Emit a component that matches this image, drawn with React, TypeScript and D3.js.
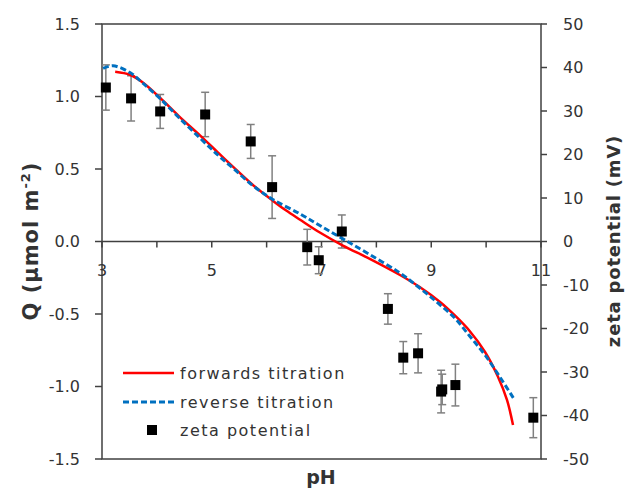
import React from "react";
import * as d3 from "d3";

// forwards titration (pH, Q µmol m-2)
const fwdPH = [3.24, 3.51, 3.75, 4.06, 4.4, 4.79, 5.11, 5.39, 5.75, 6.1, 6.35, 6.61, 6.97, 7.39, 7.88, 8.43, 8.79, 9.16, 9.43, 9.7, 9.98, 10.21, 10.38, 10.49];
const fwdQ = [1.171, 1.15, 1.095, 0.99, 0.865, 0.73, 0.615, 0.515, 0.39, 0.285, 0.215, 0.15, 0.062, -0.028, -0.12, -0.231, -0.314, -0.417, -0.51, -0.617, -0.762, -0.928, -1.093, -1.266];

// reverse titration
const revPH = [3.02, 3.2, 3.51, 3.75, 4.06, 4.4, 4.79, 5.11, 5.39, 5.75, 6.1, 6.61, 6.97, 7.39, 7.88, 8.43, 8.79, 9.12, 9.43, 9.7, 9.98, 10.25, 10.52];
const revQ = [1.194, 1.212, 1.165, 1.09, 0.985, 0.855, 0.712, 0.597, 0.505, 0.385, 0.293, 0.19, 0.11, 0.018, -0.09, -0.217, -0.321, -0.424, -0.528, -0.652, -0.783, -0.934, -1.093];

// zeta potential (pH, mV, error)
const zetaPH = [3.07, 3.53, 4.06, 4.88, 5.71, 6.1, 6.74, 6.95, 7.37, 8.21, 8.49, 8.76, 9.18, 9.2, 9.44, 10.86];
const zetaMV = [35.4, 32.9, 29.9, 29.2, 23.0, 12.5, -1.3, -4.3, 2.3, -15.5, -26.7, -25.7, -34.5, -34.0, -33.0, -40.5];
const zetaErr = [5.2, 5.2, 3.9, 5.1, 3.9, 7.2, 4.1, 3.1, 3.8, 3.5, 3.7, 4.5, 4.9, 3.5, 4.8, 4.6];

const xTicks = [3, 4, 5, 6, 7, 8, 9, 10, 11];
const xLabels = [3, 5, 7, 9, 11];
const leftTicks = [-1.5, -1.0, -0.5, 0.0, 0.5, 1.0, 1.5];
const rightTicks = [-50, -40, -30, -20, -10, 0, 10, 20, 30, 40, 50];
const legendLabels = ["forwards titration", "reverse titration", "zeta potential"];

const FONT = "'DejaVu Sans', Verdana, sans-serif";
const AX = "#404040";

export default function App() {
  const x = d3.scaleLinear().domain([3, 11]).range([102, 541]);
  const yL = d3.scaleLinear().domain([-1.5, 1.5]).range([459, 24]);
  const yR = d3.scaleLinear().domain([-50, 50]).range([459, 24]);

  const line = d3
    .line<[number, number]>()
    .x((d) => x(d[0]))
    .y((d) => yL(d[1]))
    .curve(d3.curveCatmullRom.alpha(0.5));

  const fwd = line(fwdPH.map((p, i) => [p, fwdQ[i]] as [number, number])) || "";
  const rev = line(revPH.map((p, i) => [p, revQ[i]] as [number, number])) || "";

  const y0 = yL(0);
  const [x0, x1] = x.range();
  const [yb, yt] = yL.range();

  return (
    <svg
      width={630}
      height={490}
      style={{ position: "absolute", left: 0, top: 0, background: "#fff" }}
      fontFamily={FONT}
    >
      {/* frame */}
      <rect x={x0} y={yt} width={x1 - x0} height={yb - yt} fill="none" stroke={AX} strokeWidth={1.5} />
      {/* zero line */}
      <line x1={x0} x2={x1} y1={y0} y2={y0} stroke={AX} strokeWidth={1.5} />
      {xTicks.map((t) => (
        <line key={"xt" + t} x1={x(t)} x2={x(t)} y1={y0} y2={y0 + 6} stroke={AX} strokeWidth={1.5} />
      ))}
      {xLabels.map((t) => (
        <text key={"xl" + t} x={x(t)} y={276} textAnchor="middle" fontSize={16} fill="#333">
          {t}
        </text>
      ))}
      {/* left axis */}
      {leftTicks.map((t) => (
        <g key={"lt" + t}>
          <line x1={x0 - 7} x2={x0} y1={yL(t)} y2={yL(t)} stroke={AX} strokeWidth={1.5} />
          <text x={80} y={yL(t)} dy="0.36em" textAnchor="end" fontSize={16} fill="#333">
            {d3.format(".1f")(t).replace("−", "-")}
          </text>
        </g>
      ))}
      {/* right axis */}
      {rightTicks.map((t) => (
        <g key={"rt" + t}>
          <line x1={x1} x2={x1 + 6} y1={yR(t)} y2={yR(t)} stroke={AX} strokeWidth={1.5} />
          <text x={563} y={yR(t)} dy="0.36em" textAnchor="start" fontSize={16} fill="#333">
            {String(t)}
          </text>
        </g>
      ))}

      {/* error bars */}
      {zetaPH.map((p, i) => {
        const cx = x(p);
        const top = yR(zetaMV[i] + zetaErr[i]);
        const bot = yR(zetaMV[i] - zetaErr[i]);
        return (
          <g key={"eb" + i} stroke="#808080" strokeWidth={1.5}>
            <line x1={cx} x2={cx} y1={top} y2={bot} />
            <line x1={cx - 4} x2={cx + 4} y1={top} y2={top} />
            <line x1={cx - 4} x2={cx + 4} y1={bot} y2={bot} />
          </g>
        );
      })}

      {/* curves */}
      <path d={fwd} fill="none" stroke="#FF0000" strokeWidth={2.5} />
      <path d={rev} fill="none" stroke="#0070C0" strokeWidth={3} strokeDasharray="6,3" />

      {/* markers */}
      {zetaPH.map((p, i) => (
        <rect key={"m" + i} x={x(p) - 5} y={yR(zetaMV[i]) - 5} width={10} height={10} fill="#000" />
      ))}

      {/* legend */}
      <g fontSize={16} fill="#333" letterSpacing={1.5}>
        <line x1={123} x2={174} y1={373} y2={373} stroke="#FF0000" strokeWidth={2.5} />
        <text x={180} y={373} dy="0.36em">{legendLabels[0]}</text>
        <line x1={123} x2={174} y1={402} y2={402} stroke="#0070C0" strokeWidth={3} strokeDasharray="6,3" />
        <text x={180} y={402} dy="0.36em">{legendLabels[1]}</text>
        <rect x={147} y={425} width={10} height={10} fill="#000" />
        <text x={180} y={430} dy="0.36em">{legendLabels[2]}</text>
      </g>

      {/* axis titles */}
      <text x={321} y={484} textAnchor="middle" fontSize={19} fontWeight="bold" fill="#333">
        pH
      </text>
      <text transform="translate(38,241) rotate(-90)" textAnchor="middle" fontSize={21} fontWeight="bold" fill="#333" letterSpacing={1}>
        Q (µmol m<tspan dy={-8} fontSize={13}>-2</tspan><tspan dy={8}>)</tspan>
      </text>
      <text transform="translate(620,241) rotate(-90)" textAnchor="middle" fontSize={18} fontWeight="bold" fill="#333" letterSpacing={0.8}>
        zeta potential (mV)
      </text>
    </svg>
  );
}
